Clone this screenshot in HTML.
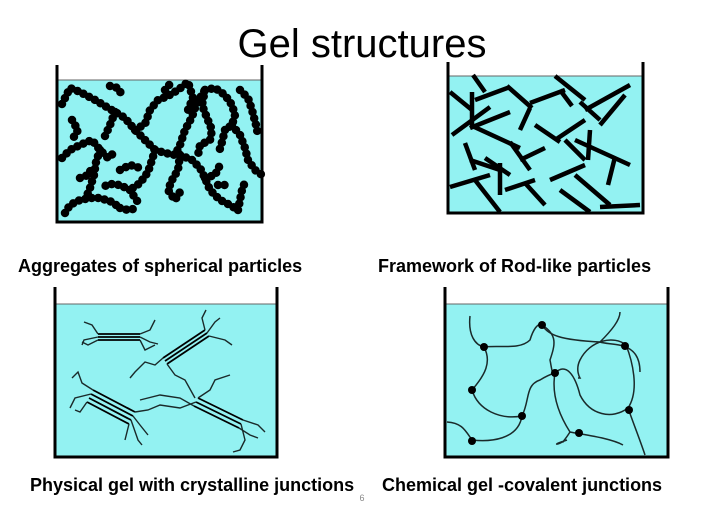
<!DOCTYPE html>
<html><head><style>
body{margin:0;background:#fff;width:723px;height:522px;overflow:hidden}
svg{display:block}
.lbl{font-family:"Liberation Sans",Arial,sans-serif;font-weight:bold;font-size:18px;fill:#000}
.dot{fill:none;stroke:#000;stroke-width:8.5;stroke-linecap:round;stroke-dasharray:0 6.5;stroke-linejoin:round}
.rod{stroke:#000;stroke-width:4.5;stroke-linecap:butt}
.th{fill:none;stroke:#1a2a2a;stroke-width:1.4}
.tb{stroke:#000;stroke-width:1.8}
</style></head><body>
<svg width="723" height="522" viewBox="0 0 723 522">
<text x="362" y="57" text-anchor="middle" font-family="Liberation Sans,Arial,sans-serif" font-size="40">Gel structures</text>

<!-- TL -->
<rect x="57" y="80" width="205" height="142" fill="#93f2f2"/>
<line x1="57" y1="80" x2="262" y2="80" stroke="#666" stroke-width="1"/>
<path d="M57 65V222H262V65" fill="none" stroke="#000" stroke-width="3"/>
<g class="dot">
<path d="M62 104L70 88L80 92L95 100L105 106L115 112L125 118L135 130L145 140L155 150"/>
<path d="M115 112L110 125L105 136"/>
<path d="M110 86L118 88L122 95"/>
<path d="M135 130L145 124L150 110L158 100L168 96L178 90L188 82L193 98L188 110"/>
<path d="M165 90L170 84"/>
<path d="M155 150L165 153L175 155L180 145L185 130L192 117L195 108L200 98L205 90"/>
<path d="M180 155L178 170L172 180L168 190L175 200L180 192"/>
<path d="M155 150L152 160L148 172L140 183L130 190"/>
<path d="M180 155L192 160L200 168L205 178L210 190L220 200L230 205L238 210"/>
<path d="M205 90L202 105L207 118L212 130L210 140L200 145L198 155"/>
<path d="M205 90L215 88L225 95L232 105L235 115L232 125L225 130"/>
<path d="M240 90L248 98L252 110L256 125L258 135"/>
<path d="M232 125L240 135L245 148L248 160L255 170L262 175"/>
<path d="M225 130L222 142L218 155"/>
<path d="M62 158L70 150L80 145L92 140L100 150L108 158L115 152"/>
<path d="M100 150L96 162L94 175L90 188L86 198"/>
<path d="M80 178L88 175L92 168"/>
<path d="M65 213L70 205L80 200L90 198L100 198L112 202L120 208"/>
<path d="M120 208L128 210L138 208"/>
<path d="M130 190L120 185L110 184L100 188"/>
<path d="M205 178L215 175L220 165"/>
<path d="M238 210L240 200L242 190L245 182"/>
<path d="M218 185L230 185"/>
<path d="M130 190L135 198L140 205"/>
<path d="M72 120L78 130L72 140"/>
<path d="M120 170L130 165L140 168"/>
</g>

<!-- TR -->
<rect x="448" y="76" width="195" height="137" fill="#93f2f2"/>
<line x1="448" y1="76" x2="643" y2="76" stroke="#666" stroke-width="1"/>
<path d="M448 62V213H643V62" fill="none" stroke="#000" stroke-width="3"/>
<g class="rod">
<line x1="450" y1="92" x2="472" y2="110"/><line x1="452" y1="135" x2="490" y2="107"/>
<line x1="473" y1="75" x2="485" y2="92"/><line x1="475" y1="100" x2="510" y2="87"/>
<line x1="472" y1="92" x2="472" y2="125"/><line x1="507" y1="86" x2="532" y2="108"/>
<line x1="470" y1="128" x2="510" y2="112"/><line x1="530" y1="108" x2="520" y2="130"/>
<line x1="530" y1="103" x2="565" y2="90"/><line x1="555" y1="76" x2="585" y2="100"/>
<line x1="560" y1="90" x2="572" y2="106"/><line x1="580" y1="102" x2="600" y2="120"/>
<line x1="585" y1="110" x2="630" y2="85"/><line x1="600" y1="125" x2="625" y2="95"/>
<line x1="470" y1="125" x2="520" y2="148"/><line x1="510" y1="142" x2="530" y2="170"/>
<line x1="535" y1="125" x2="560" y2="142"/><line x1="555" y1="140" x2="585" y2="120"/>
<line x1="565" y1="140" x2="585" y2="160"/><line x1="590" y1="130" x2="588" y2="160"/>
<line x1="575" y1="140" x2="630" y2="165"/><line x1="615" y1="157" x2="608" y2="185"/>
<line x1="465" y1="143" x2="475" y2="170"/><line x1="470" y1="160" x2="500" y2="170"/>
<line x1="450" y1="187" x2="490" y2="175"/><line x1="475" y1="180" x2="500" y2="212"/>
<line x1="500" y1="163" x2="500" y2="195"/><line x1="485" y1="158" x2="510" y2="175"/>
<line x1="505" y1="190" x2="535" y2="180"/><line x1="525" y1="183" x2="545" y2="205"/>
<line x1="550" y1="180" x2="585" y2="165"/><line x1="560" y1="190" x2="590" y2="212"/>
<line x1="575" y1="175" x2="610" y2="205"/><line x1="600" y1="207" x2="640" y2="205"/>
<line x1="520" y1="160" x2="545" y2="148"/>
</g>

<!-- BL -->
<rect x="55" y="304" width="222" height="153" fill="#93f2f2"/>
<line x1="55" y1="304" x2="277" y2="304" stroke="#666" stroke-width="1"/>
<path d="M55 287V457H277V287" fill="none" stroke="#000" stroke-width="3"/>
<g class="tb">
<line x1="98" y1="334" x2="140" y2="334"/><line x1="98" y1="337" x2="140" y2="337"/><line x1="98" y1="340" x2="140" y2="340"/>
<line x1="163" y1="358" x2="205" y2="330"/><line x1="165" y1="361" x2="207" y2="333"/><line x1="167" y1="364" x2="209" y2="336"/>
<line x1="93" y1="390" x2="135" y2="412"/><line x1="91" y1="394" x2="133" y2="416"/><line x1="89" y1="398" x2="131" y2="420"/><line x1="87" y1="402" x2="129" y2="424"/>
<line x1="198" y1="398" x2="243" y2="420"/><line x1="196" y1="402" x2="241" y2="424"/><line x1="194" y1="406" x2="239" y2="428"/>
</g>
<g class="th">
<path d="M98 334L92 325L84 322M98 337L84 340L82 345M98 340L88 345L82 342M140 334L150 330L155 320M140 337L150 342L158 344M140 340L145 350L155 345"/>
<path d="M205 330L202 318L206 310M207 333L215 322L220 318M209 336L225 340L232 345M163 358L155 365L145 362L135 372L130 378M167 364L175 375L185 380L195 398"/>
<path d="M93 390L82 383L78 372L72 378M91 394L75 398L70 408M87 402L80 412L75 410M135 412L148 410L160 405L180 408L196 402M133 416L140 425L148 435M131 420L138 440L142 445M129 424L125 440"/>
<path d="M243 420L258 425L265 432M241 424L245 440L240 450L233 452M239 428L250 435L258 438M198 398L210 390L215 380L230 375M194 406L180 398L160 395L140 400"/>
</g>

<!-- BR -->
<rect x="445" y="304" width="223" height="153" fill="#93f2f2"/>
<line x1="445" y1="304" x2="668" y2="304" stroke="#666" stroke-width="1"/>
<path d="M445 287V457H668V287" fill="none" stroke="#000" stroke-width="3"/>
<g fill="none" stroke="#1a2a2a" stroke-width="1.5">
<path d="M470 316C468 335 475 345 484 347C500 345 520 350 530 340C533 330 538 322 542 325C548 335 560 340 600 342C612 330 620 320 620 312"/>
<path d="M542 325C558 335 555 345 550 360C552 370 552 375 555 373"/>
<path d="M484 347C492 362 485 375 472 390C478 410 500 420 522 416C530 400 525 385 540 380C548 375 555 373 555 373"/>
<path d="M555 373C552 390 556 410 570 432C585 435 610 438 623 445"/>
<path d="M555 373C566 362 575 375 580 395C590 415 612 420 628 408C640 390 632 360 626 345C614 335 590 340 580 360C575 370 580 378 580 378L578 378"/>
<path d="M522 416C518 440 490 442 472 440C465 430 462 423 447 422"/>
<path d="M570 432C565 440 560 445 565 440C560 445 548 446 567 440"/>
<path d="M628 408C634 425 640 440 645 455"/>
<path d="M600 342C612 346 640 340 640 372"/>
</g>
<g fill="#000">
<circle cx="484" cy="347" r="4"/><circle cx="542" cy="325" r="4"/><circle cx="625" cy="346" r="4"/>
<circle cx="555" cy="373" r="4"/><circle cx="472" cy="390" r="4"/><circle cx="522" cy="416" r="4"/>
<circle cx="629" cy="410" r="4"/><circle cx="579" cy="433" r="4"/><circle cx="472" cy="441" r="4"/>
</g>

<text class="lbl" x="18" y="272">Aggregates of spherical particles</text>
<text class="lbl" x="378" y="272">Framework of Rod-like particles</text>
<text class="lbl" x="30" y="491">Physical gel with crystalline junctions</text>
<text class="lbl" x="382" y="491">Chemical gel -covalent junctions</text>
<text x="362" y="501" text-anchor="middle" font-family="Liberation Sans,sans-serif" font-size="9" fill="#888">6</text>
</svg>
</body></html>
